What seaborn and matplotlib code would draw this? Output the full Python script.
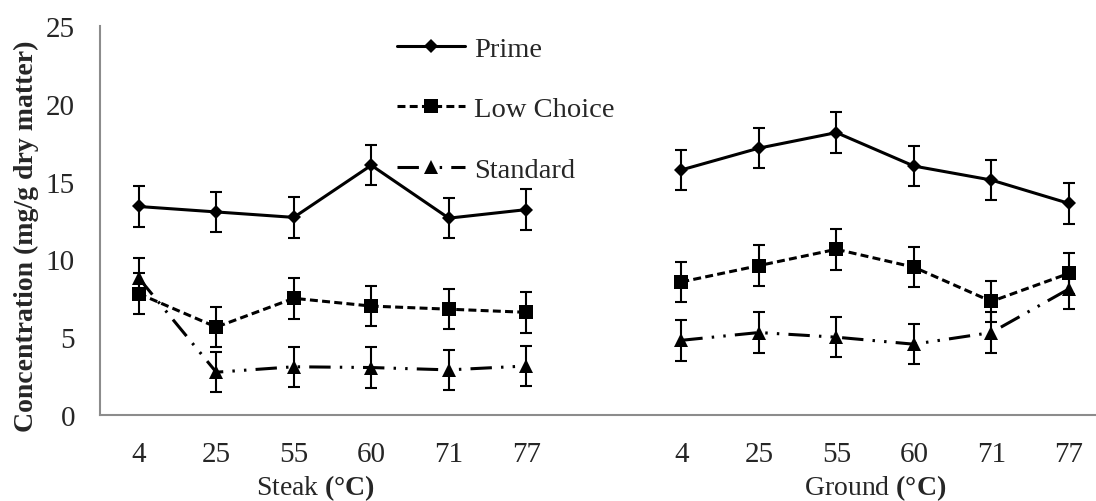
import numpy as np
import pandas as pd
import seaborn as sns
import matplotlib
matplotlib.use("Agg")
import matplotlib.pyplot as plt
from matplotlib.lines import Line2D
from matplotlib.transforms import blended_transform_factory

# Cooking temperatures (°C) for each product form
temps = ["4", "25", "55", "60", "71", "77"]

# Concentration (mg/g dry matter) by quality grade
prime_steak = [13.4, 13.05, 12.7, 16.05, 12.65, 13.2]
prime_ground = [15.75, 17.15, 18.15, 16.0, 15.1, 13.6]
lowchoice_steak = [7.8, 5.65, 7.5, 7.0, 6.8, 6.6]
lowchoice_ground = [8.55, 9.6, 10.65, 9.5, 7.3, 9.1]
standard_steak = [8.8, 2.75, 3.1, 3.05, 2.9, 3.15]
standard_ground = [4.8, 5.3, 5.0, 4.55, 5.3, 8.1]

# Standard error shown on every point
sem = 1.3

sns.set_style("white")
plt.rcParams["font.family"] = ["Liberation Serif", "DejaVu Serif"]
plt.rcParams["mathtext.fontset"] = "custom"
plt.rcParams["mathtext.rm"] = "Liberation Serif"
plt.rcParams["mathtext.bf"] = "Liberation Serif:bold"

fig = plt.figure(figsize=(10.96, 5.02), dpi=100)
ax = fig.add_axes([100 / 1096, 86 / 502, 996 / 1096, 389 / 502])

# category slots: steak at 0..5, one empty slot, ground at 7..12
steak_pos = np.arange(6)
ground_pos = np.arange(6) + 7

series = [
    ("Prime", prime_steak, prime_ground, "D", 7, "-"),
    ("Low Choice", lowchoice_steak, lowchoice_ground, "s", 10.5, (0, (2.6, 1.4))),
    ("Standard", standard_steak, standard_ground, "^", 9.5,
     (0, (7.0, 3.0, 0.8, 3.0, 0.8, 3.0))),
]

lw = 2.2
handles = []
for name, steak, ground, mk, ms, ls in series:
    for pos, vals in ((steak_pos, steak), (ground_pos, ground)):
        sns.lineplot(x=pos, y=vals, ax=ax, color="black", marker=mk,
                     markersize=ms, markeredgewidth=0, linewidth=lw,
                     linestyle=ls, estimator=None, legend=False, zorder=3)
        ax.errorbar(pos, vals, yerr=sem, fmt="none", ecolor="black",
                    elinewidth=1.5, capsize=4.5, capthick=1.5, zorder=2)
    handles.append(Line2D([], [], color="black", marker=mk, markersize=ms,
                          markeredgewidth=0, linewidth=lw, linestyle=ls,
                          label=name))

ax.set_xlim(-0.5, 12.35)
ax.set_ylim(0, 25)
ax.set_yticks([0, 5, 10, 15, 20, 25])
ax.set_xticks(np.concatenate([steak_pos, ground_pos]))
ax.set_xticklabels(temps + temps)
ax.tick_params(axis="both", length=0, labelsize=21)
ax.tick_params(axis="x", pad=19)
ax.tick_params(axis="y", pad=18)

for side in ("top", "right"):
    ax.spines[side].set_visible(False)
for side in ("left", "bottom"):
    ax.spines[side].set_color("#8c8c8c")
    ax.spines[side].set_linewidth(1.5)

ax.set_xlabel("")
ax.set_ylabel("Concentration (mg/g dry matter)", fontsize=20, fontweight="bold")
ax.yaxis.set_label_coords(-0.061, 0.463)

trans = blended_transform_factory(ax.transData, ax.transAxes)
ax.text(2.28, -0.185, r"Steak $\mathbf{(°C)}$", transform=trans,
        ha="center", va="center", fontsize=20)
ax.text(9.5, -0.185, r"Ground $\mathbf{(°C)}$", transform=trans,
        ha="center", va="center", fontsize=20)

ax.legend(handles=handles, loc="upper left", bbox_to_anchor=(0.298, 0.975),
          frameon=False, fontsize=20.5, handlelength=2.4, handletextpad=0.3,
          labelspacing=1.22, borderpad=0, borderaxespad=0)

fig.savefig("out.png", dpi=100)
